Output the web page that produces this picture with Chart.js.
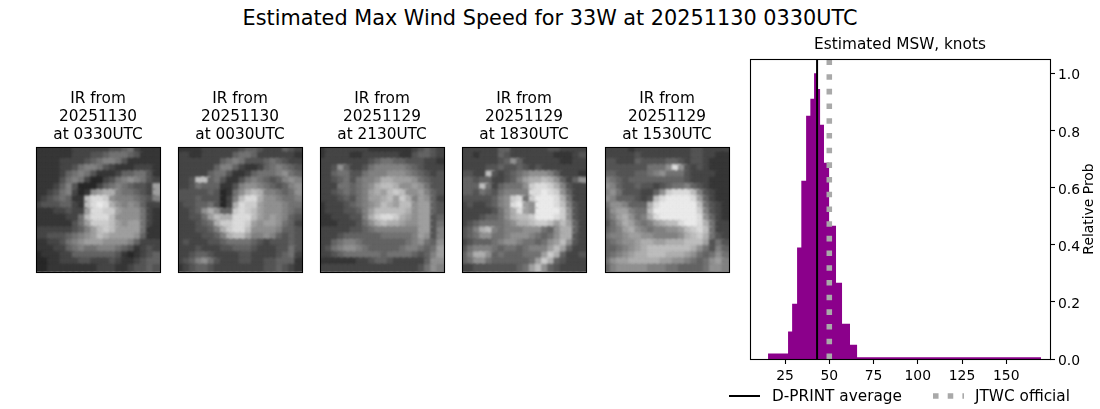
<!DOCTYPE html>
<html><head><meta charset="utf-8">
<script src="https://cdn.jsdelivr.net/npm/chart.js@4"></script>
<style>
html,body{margin:0;padding:0;background:#fff;width:1100px;height:409px;overflow:hidden;font-family:"DejaVu Sans";color:#000}
canvas{position:absolute}
.t{position:absolute;white-space:nowrap;line-height:1}
</style></head><body>
<div class="t" id="sup" style="left:0;width:1100px;text-align:center;top:8px;font-size:20.8px">Estimated Max Wind Speed for 33W at 20251130 0330UTC</div>
<canvas id="p0" width="143" height="198" style="left:26px;top:80px"></canvas>
<canvas id="p1" width="143" height="198" style="left:168px;top:80px"></canvas>
<canvas id="p2" width="143" height="198" style="left:310px;top:80px"></canvas>
<canvas id="p3" width="143" height="198" style="left:452px;top:80px"></canvas>
<canvas id="p4" width="143" height="198" style="left:595px;top:80px"></canvas>
<canvas id="hist" width="400" height="409" style="left:700px;top:0"></canvas>
<svg width="1100" height="409" style="position:absolute;left:0;top:0;pointer-events:none">
<line x1="729" x2="760" y1="396" y2="396" stroke="#000" stroke-width="2"/>
<line x1="933" x2="964" y1="396" y2="396" stroke="#a9a9a9" stroke-width="5.5" stroke-dasharray="5.55 9.15"/>
</svg>
<div class="t" style="left:772px;top:389px;font-size:15.3px">D-PRINT average</div>
<div class="t" style="left:975px;top:389px;font-size:15.3px">JTWC official</div>
<div class="t" style="left:1089px;top:209px;font-size:13.9px;transform:translate(-50%,-50%) rotate(-90deg)">Relative Prob</div>
<script>
const binEdges=[15.4,26.7,29,31.8,34.2,36.9,39.3,41.4,43.1,44.8,47,49.9,53.8,57.2,61.7,65.7,169.6];
const binProbs=[0.019,0.096,0.193,0.39,0.624,0.851,0.911,1.0,0.945,0.82,0.687,0.466,0.267,0.123,0.05,0.006];
const dprintAverage=43.1;
const jtwcOfficial=50;
const xTicks=[25,50,75,100,125,150];
const yTicks=[0,0.2,0.4,0.6,0.8,1.0];
const panelTimes=[["IR from","20251130","at 0330UTC"],["IR from","20251130","at 0030UTC"],["IR from","20251129","at 2130UTC"],["IR from","20251129","at 1830UTC"],["IR from","20251129","at 1530UTC"]];
const ir0=["22222233333344563222","22222233344566654222","22223333456776422222","22223346776432223332","22223567642223556642","22224676311346787643","22235741113567654439","22346731289aa7665439","23456522bddc87776547","34445532bdeda8787533","222334339ddcc9888632","22222336bdddb8888632","222222469cccb9899632","3333334579bcb9999622","3344456789ba99998522","22334678999888875333","22233567667776542343","12223355555554212345","11223334433343223455","11222222223332234454"];
const ir1=["22223333334554333543","33223333356653333332","33333335676444565433","33333357753223567654","33333566422356667865","334bb564224676545787","33465552247887654578","44444541268aba776568","4445444137bdda887667","344556413adcc9888766","33458a855cdcb9888765","334469baadddb9898754","333456accddc98998653","3334457acddb88887554","33334457abb977875454","34333445666654344454","33343334455543334464","33455433334433334563","34578643334433445552","23455433333333445432"];
const ir2=["23333333222222234543","23333223333332245543","33333333456655444332","33485334677777654333","33566446777888765434","3345646778aa99986544","333665678abba8898644","334565679a9bcb889754","3334546799ab9ca79853","2333456789ba9bb89954","233344579bbbbba89954","22333447acddca989945","222333468abaa9889946","33333445677777779947","33345555556666679847","33567765555555678658","34678876555556776569","33456666665666654579","22222233455433333588","33333333333333334687"];
const ir3=["33333355333333443333","33233354333333322234","33333345853333332233","33334454454343333333","4433b434567888753332","55455334579aaba85358","555b6356668cddca7433","55465467777ddedc8533","44444578cd6ceeeda633","34334578de98eeedb743","33333468ad98eeeec843","33345568abbceeedc843","345666678aabccb9b953","457ab76777888658aa53","4568866788876568aa43","3455567887665689b843","467776566567779b9533","57aa8565556669ca5334","5688655555569ca54333","334444444569b8543333"];
const ir4=["33332333333333443333","33333433333333443322","44333544445543443222","44444446668d84343222","55444556786664333322","76545555555554333222","87544544345667543222","7864443358cdddb74322","87555434bdeeeed95322","6887555adeeeeeeb6432","5899766beeeeeeec7432","579a867adeeeeeed8532","468a97679abbdeeda633","5679a87677889bcdb633","6778998877778abca643","567889aa99aaabbb9464","556789abbbbbbba86475","56789aabbbaaa9865686","6899aaaaa99887656897","57888887776655556887"];
const irPanels=[ir0,ir1,ir2,ir3,ir4];

const FONT='"DejaVu Sans"';
Chart.defaults.animation=false;
Chart.defaults.font.family=FONT;
Chart.defaults.color='#000';
const frame={id:'frame',afterDraw(c){const a=c.chartArea,x=c.ctx;x.save();x.strokeStyle='#000';x.lineWidth=1.1;x.strokeRect(Math.round(a.left)+.5,Math.round(a.top)+.5,Math.round(a.right-a.left),Math.round(a.bottom-a.top));x.restore();}};
const soften={id:'soften',
 beforeDatasetsDraw(c){const a=c.chartArea,x=c.ctx;x.save();x.fillStyle='#383838';x.fillRect(a.left,a.top,a.right-a.left,a.bottom-a.top);x.filter='blur(1.2px)';},
 afterDatasetsDraw(c){c.ctx.filter='none';c.ctx.restore();}};

irPanels.forEach((rows,i)=>{
  const pts=[];
  rows.forEach((row,r)=>{[...row].forEach((ch,k)=>pts.push({x:k,y:r,v:parseInt(ch,16)}));});
  new Chart(document.getElementById('p'+i),{
    type:'scatter',
    data:{datasets:[{data:pts,pointStyle:'rect',pointRadius:6.4,pointBorderWidth:0,
      backgroundColor:ctx=>{const d=ctx.raw?ctx.raw.v:0,g=Math.round(24+d*15);return `rgb(${g},${g},${g})`;}}]},
    options:{responsive:false,devicePixelRatio:1,
      layout:{padding:{left:10,right:9,top:10,bottom:3}},
      scales:{x:{display:false,min:-0.5,max:19.5},y:{display:false,min:-0.5,max:19.5,reverse:true}},
      plugins:{legend:{display:false},tooltip:{enabled:false},
        title:{display:true,text:panelTimes[i],font:{size:15.3,weight:'normal',lineHeight:'18px'},padding:{top:0,bottom:3},color:'#000'}}},
    plugins:[soften,frame]});
});

const histPts=binEdges.map((e,i)=>({x:e,y:binProbs[Math.min(i,binProbs.length-1)]}));
new Chart(document.getElementById('hist'),{
  type:'scatter',
  data:{datasets:[
    {label:'D-PRINT average',xAxisID:'x',yAxisID:'y',data:[{x:dprintAverage,y:0},{x:dprintAverage,y:1.05}],showLine:true,borderColor:'#000',borderWidth:2,pointRadius:0,order:1},
    {label:'JTWC official',xAxisID:'x',yAxisID:'y',data:[{x:jtwcOfficial,y:0},{x:jtwcOfficial,y:1.05}],showLine:true,borderColor:'#a9a9a9',borderWidth:5.55,borderDash:[5.55,9.15],borderCapStyle:'butt',pointRadius:0,order:2},
    {label:'MSW',xAxisID:'x',yAxisID:'y',data:histPts,showLine:true,stepped:'before',fill:'origin',backgroundColor:'#8b008b',borderColor:'#8b008b',borderWidth:0,pointRadius:0,order:3}
  ]},
  options:{responsive:false,devicePixelRatio:1,
    layout:{padding:0},
    scales:{
      x:{type:'linear',min:5.2,max:174.7,
        afterBuildTicks:s=>{s.ticks=xTicks.map(v=>({value:v}));},
        afterFit:s=>{s.height=50;},
        grid:{drawOnChartArea:false,tickLength:5,tickColor:'#000',tickWidth:1.1},border:{display:false},
        ticks:{font:{size:13.9},maxRotation:0,autoSkip:false,padding:4,callback:v=>String(v)}},
      spacer:{type:'linear',position:'left',afterFit:s=>{s.width=50;},
        grid:{display:false},border:{display:false},ticks:{display:false}},
      y:{type:'linear',position:'right',min:0,max:1.05,
        afterBuildTicks:s=>{s.ticks=yTicks.map(v=>({value:v}));},
        afterFit:s=>{s.width=50;},
        grid:{drawOnChartArea:false,tickLength:5,tickColor:'#000',tickWidth:1.1},border:{display:false},
        ticks:{font:{size:13.9},autoSkip:false,padding:3,labelOffset:2.5,callback:v=>v.toFixed(1)}}
    },
    plugins:{legend:{display:false},tooltip:{enabled:false},
      title:{display:true,text:'Estimated MSW, knots',font:{size:15.3,weight:'normal',lineHeight:'18px'},padding:{top:36,bottom:5},color:'#000'}}},
  plugins:[frame]});
</script>
</body></html>
